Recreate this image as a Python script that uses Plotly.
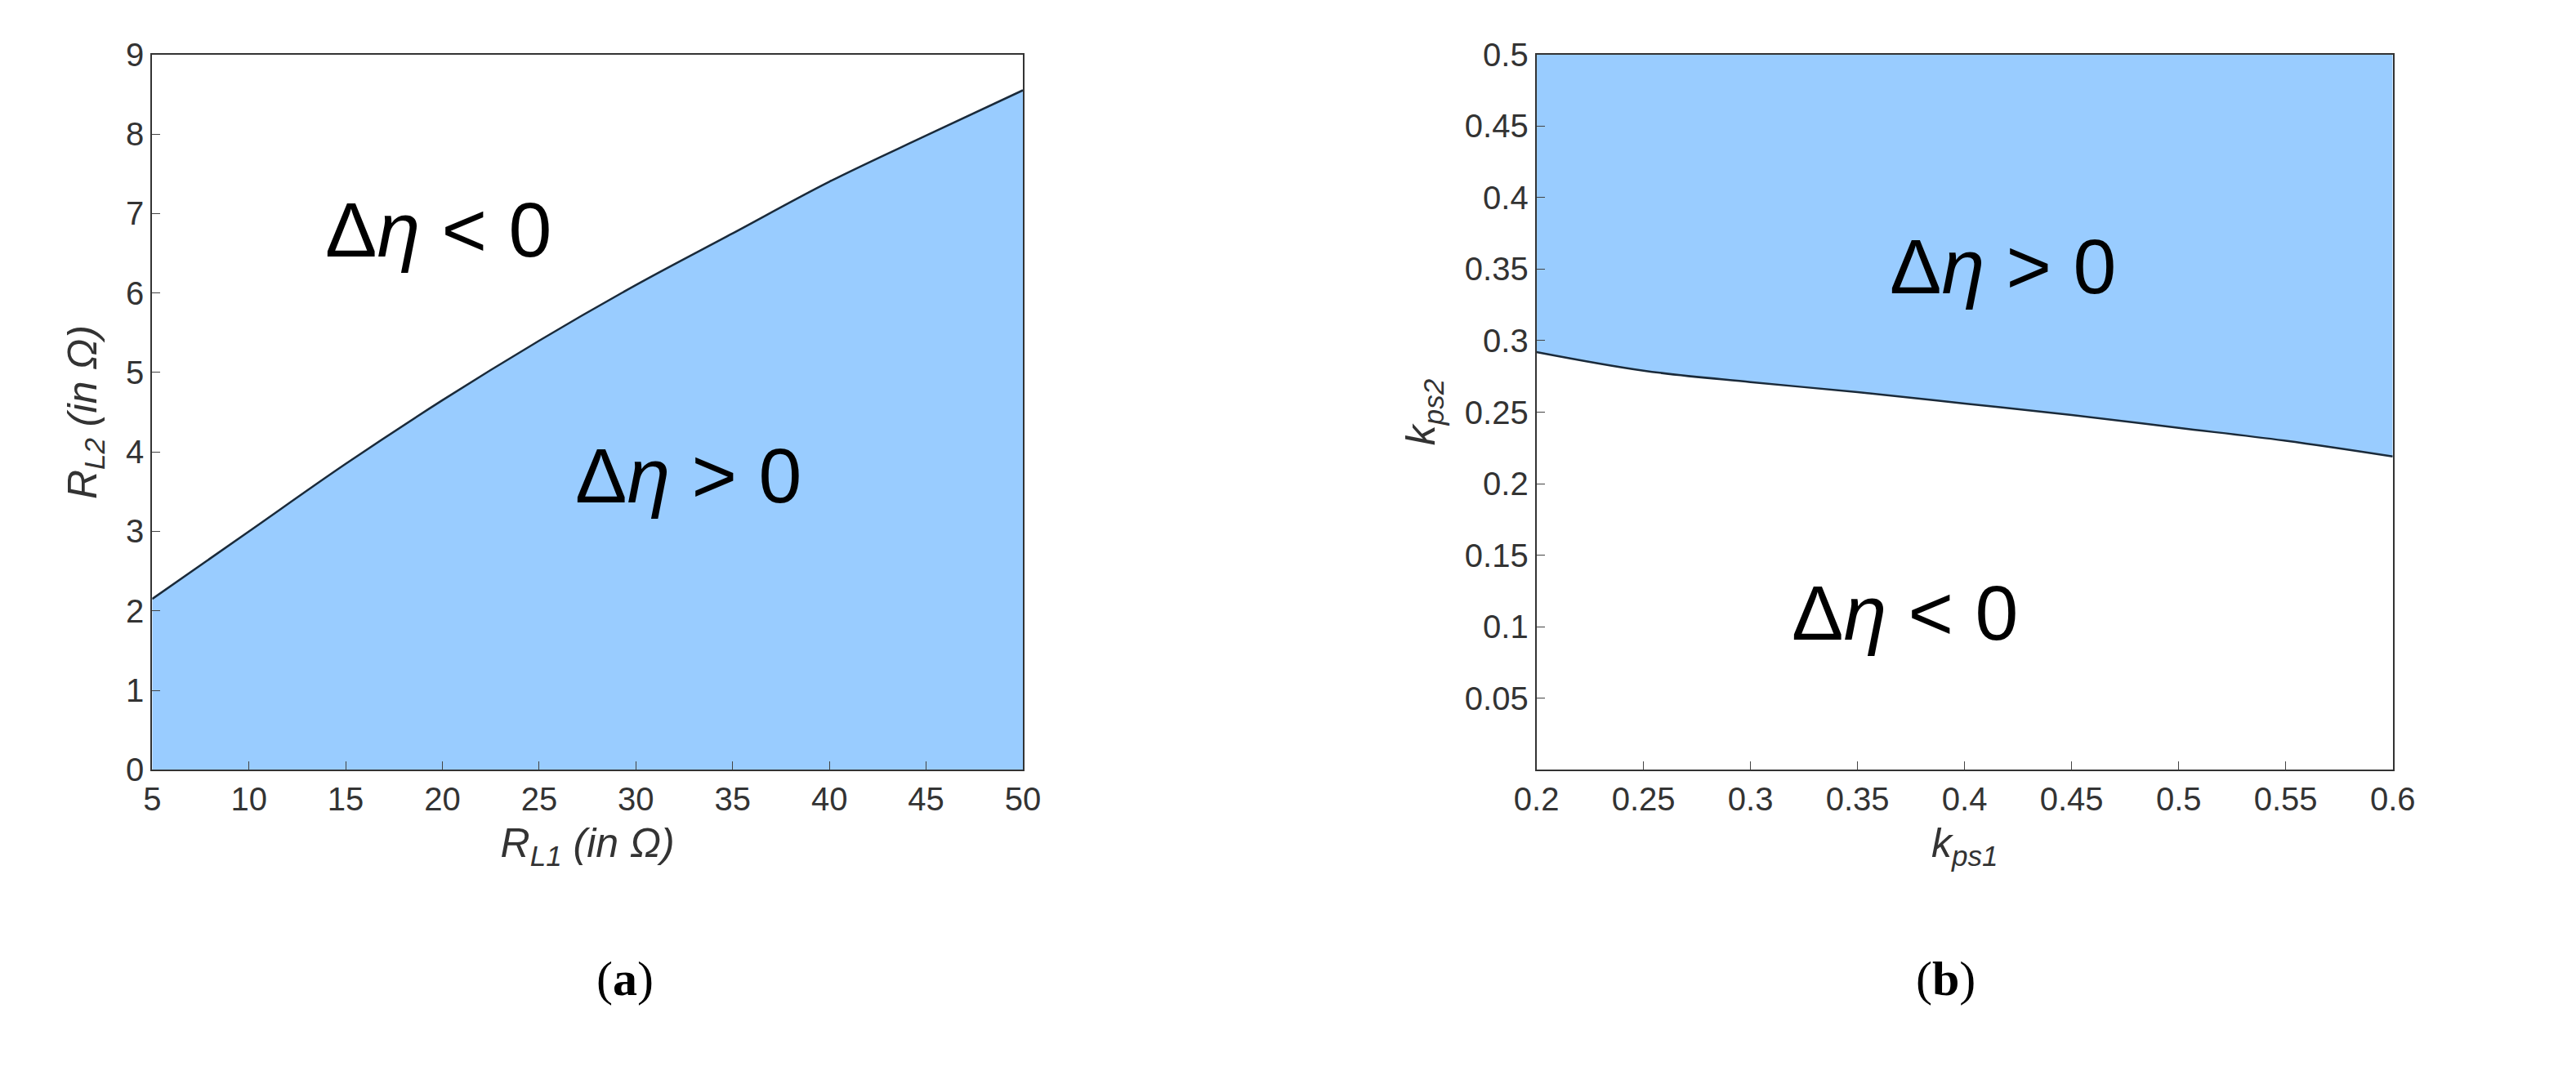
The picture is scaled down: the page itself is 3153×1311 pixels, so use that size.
import plotly.graph_objects as go
from plotly.subplots import make_subplots

# panel (a): boundary R_L2 vs R_L1
rl1 = [5, 10, 15, 20, 25, 30, 35, 40, 45, 50]
rl2 = [2.15, 3.0, 3.85, 4.65, 5.4, 6.1, 6.75, 7.4, 7.98, 8.55]

# panel (b): boundary k_ps2 vs k_ps1
kps1 = [0.2, 0.25, 0.3, 0.35, 0.4, 0.45, 0.5, 0.55, 0.6]
kps2 = [0.292, 0.279, 0.271, 0.264, 0.256, 0.248, 0.239, 0.230, 0.219]

blue = "#99ccff"
W, H = 3153, 1311

fig = make_subplots(rows=1, cols=2)

fig.add_trace(go.Scatter(x=rl1, y=rl2, mode="lines", fill="tozeroy", fillcolor=blue,
                         line=dict(color="#1a2a3a", width=2.5, shape="spline")), row=1, col=1)
fig.add_trace(go.Scatter(x=kps1, y=[0.5] * len(kps1), mode="lines",
                         line=dict(color="rgba(0,0,0,0)", width=0)), row=1, col=2)
fig.add_trace(go.Scatter(x=kps1, y=kps2, mode="lines", fill="tonexty", fillcolor=blue,
                         line=dict(color="#1a2a3a", width=2.5, shape="spline")), row=1, col=2)

axstyle = dict(showgrid=False, zeroline=False, showline=True, linecolor="#333",
               linewidth=2, mirror=True, ticks="inside", ticklen=10,
               tickfont=dict(family="Liberation Sans", size=40, color="#333"))
tfont = dict(family="Liberation Sans", size=50, color="#333")

fig.update_xaxes(domain=[153 / W, 1238 / W], range=[5, 50], tickvals=list(range(5, 51, 5)),
                 title=dict(text="<i>R<sub>L1</sub> (in Ω)</i>", font=tfont),
                 **axstyle, row=1, col=1)
fig.update_yaxes(domain=[1 - 944 / H, 1 - 38 / H], range=[0, 9], tickvals=list(range(0, 10)),
                 title=dict(text="<i>R<sub>L2</sub> (in Ω)</i>", font=tfont, standoff=20),
                 **axstyle, row=1, col=1)
fig.update_xaxes(domain=[1878 / W, 2945 / W], range=[0.2, 0.6],
                 tickvals=[0.2, 0.25, 0.3, 0.35, 0.4, 0.45, 0.5, 0.55, 0.6],
                 ticktext=["0.2", "0.25", "0.3", "0.35", "0.4", "0.45", "0.5", "0.55", "0.6"],
                 title=dict(text="<i>k<sub>ps1</sub></i>", font=tfont),
                 **axstyle, row=1, col=2)
fig.update_yaxes(domain=[1 - 944 / H, 1 - 38 / H], range=[0, 0.5],
                 tickvals=[0.05, 0.1, 0.15, 0.2, 0.25, 0.3, 0.35, 0.4, 0.45, 0.5],
                 ticktext=["0.05", "0.1", "0.15", "0.2", "0.25", "0.3", "0.35", "0.4", "0.45", "0.5"],
                 title=dict(text="<i>k<sub>ps2</sub></i>", font=tfont, standoff=20),
                 **axstyle, row=1, col=2)

big = dict(family="Liberation Sans", size=95, color="black")
fig.add_annotation(x=19.8, y=6.8, xref="x", yref="y", text="Δ<i>η</i> < 0", showarrow=False, font=big)
fig.add_annotation(x=32.7, y=3.7, xref="x", yref="y", text="Δ<i>η</i> > 0", showarrow=False, font=big)
fig.add_annotation(x=0.418, y=0.352, xref="x2", yref="y2", text="Δ<i>η</i> > 0", showarrow=False, font=big)
fig.add_annotation(x=0.372, y=0.11, xref="x2", yref="y2", text="Δ<i>η</i> < 0", showarrow=False, font=big)

cap = dict(family="Liberation Serif", size=60, color="black")
fig.add_annotation(x=(153 + 1238) / 2 / W + 0.003, y=1 - 1245 / H, xref="paper", yref="paper",
                   text="(<b>a</b>)", showarrow=False, font=cap)
fig.add_annotation(x=(1878 + 2945) / 2 / W + 0.005, y=1 - 1245 / H, xref="paper", yref="paper",
                   text="(<b>b</b>)", showarrow=False, font=cap)

fig.update_layout(width=W, height=H, showlegend=False, plot_bgcolor="white",
                  paper_bgcolor="white", margin=dict(l=0, r=0, t=0, b=0))

fig.write_html("out.html")
